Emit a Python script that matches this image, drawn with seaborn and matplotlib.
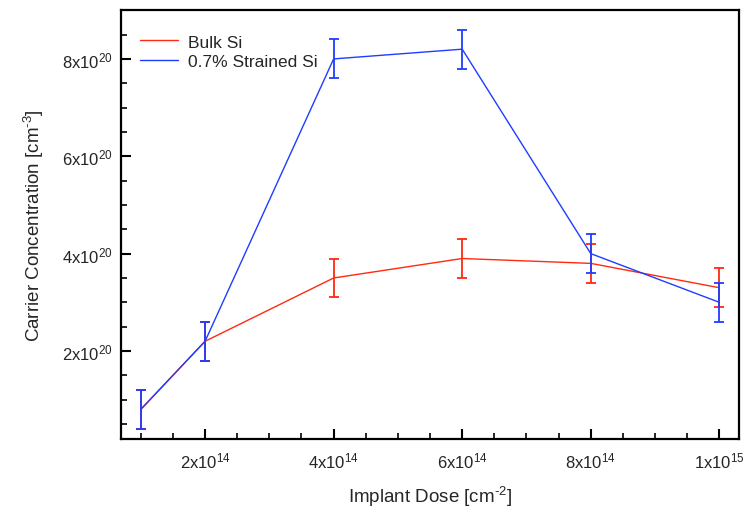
import matplotlib
matplotlib.use("Agg")
import matplotlib.pyplot as plt
import seaborn as sns
import pandas as pd
import numpy as np
from matplotlib.ticker import MultipleLocator, FixedLocator
from matplotlib.lines import Line2D

dose = [1e14, 2e14, 4e14, 6e14, 8e14, 1e15]
bulk = [0.8e20, 2.2e20, 3.5e20, 3.9e20, 3.8e20, 3.3e20]
bulk_err = [0.4e20, 0.4e20, 0.4e20, 0.4e20, 0.4e20, 0.4e20]
strained = [0.8e20, 2.2e20, 8.0e20, 8.2e20, 4.0e20, 3.0e20]
strained_err = [0.4e20, 0.4e20, 0.4e20, 0.4e20, 0.4e20, 0.4e20]
series_names = ["Bulk Si", "0.7% Strained Si"]
xtick_vals = [2e14, 4e14, 6e14, 8e14, 1e15]
xtick_labels = [r"2x10$^{14}$", r"4x10$^{14}$", r"6x10$^{14}$", r"8x10$^{14}$", r"1x10$^{15}$"]
ytick_vals = [2e20, 4e20, 6e20, 8e20]
ytick_labels = [r"2x10$^{20}$", r"4x10$^{20}$", r"6x10$^{20}$", r"8x10$^{20}$"]

sns.set_style("ticks")
plt.rcParams['font.family'] = ['Liberation Sans', 'DejaVu Sans']
plt.rcParams['mathtext.fontset'] = 'custom'
plt.rcParams['mathtext.rm'] = 'Liberation Sans'
plt.rcParams['mathtext.it'] = 'Liberation Sans:italic'
plt.rcParams['mathtext.default'] = 'regular'

colors = {"Bulk Si": "#ff2a10", "0.7% Strained Si": "#1f3dff"}

df = pd.DataFrame({
    "dose": dose * 2,
    "conc": bulk + strained,
    "err": bulk_err + strained_err,
    "series": [series_names[0]] * len(dose) + [series_names[1]] * len(dose),
})

fig = plt.figure(figsize=(7.46, 5.10), dpi=100)
ax = fig.add_axes([0.162, 0.137, 0.829, 0.841])

sns.lineplot(data=df, x="dose", y="conc", hue="series", palette=colors,
             hue_order=series_names, linewidth=1.0, ax=ax, legend=False)
for name in series_names:
    sub = df[df.series == name]
    ax.errorbar(sub.dose, sub.conc, yerr=sub.err, fmt='none', ecolor=colors[name],
                elinewidth=1.3, capsize=3.6, capthick=1.3, zorder=3)

ax.set_xlim(0.69e14, 1.031e15)
ax.set_ylim(0.19e20, 9.0e20)
ax.xaxis.set_major_locator(FixedLocator(xtick_vals))
ax.set_xticklabels(xtick_labels)
ax.xaxis.set_minor_locator(MultipleLocator(0.5e14))
ax.yaxis.set_major_locator(FixedLocator(ytick_vals))
ax.set_yticklabels(ytick_labels)
ax.yaxis.set_minor_locator(MultipleLocator(0.5e20))
ax.tick_params(which='both', direction='in', top=False, right=False, labelsize=12, width=1.5, color='black')
ax.tick_params(axis='x', which='major', length=7, pad=8)
ax.tick_params(axis='y', which='major', length=7, pad=6)
ax.tick_params(which='minor', length=4.5, width=1.2)
for s in ax.spines.values():
    s.set_linewidth(1.6)
    s.set_color('black')

ax.set_xlabel("Implant Dose [cm$^{\u20102}$]", fontsize=13.5, labelpad=10)
ax.set_ylabel("Carrier Concentration [cm$^{\u20103}$]", fontsize=13.5, labelpad=11)

handles = [Line2D([0], [0], color=colors[n], lw=1.0) for n in series_names]
ax.legend(handles, series_names, loc='upper left', frameon=False, fontsize=12.5,
          handlelength=2.2, handletextpad=0.6, labelspacing=0.25,
          bbox_to_anchor=(0.005, 0.98))

fig.savefig("out.png", dpi=100)
